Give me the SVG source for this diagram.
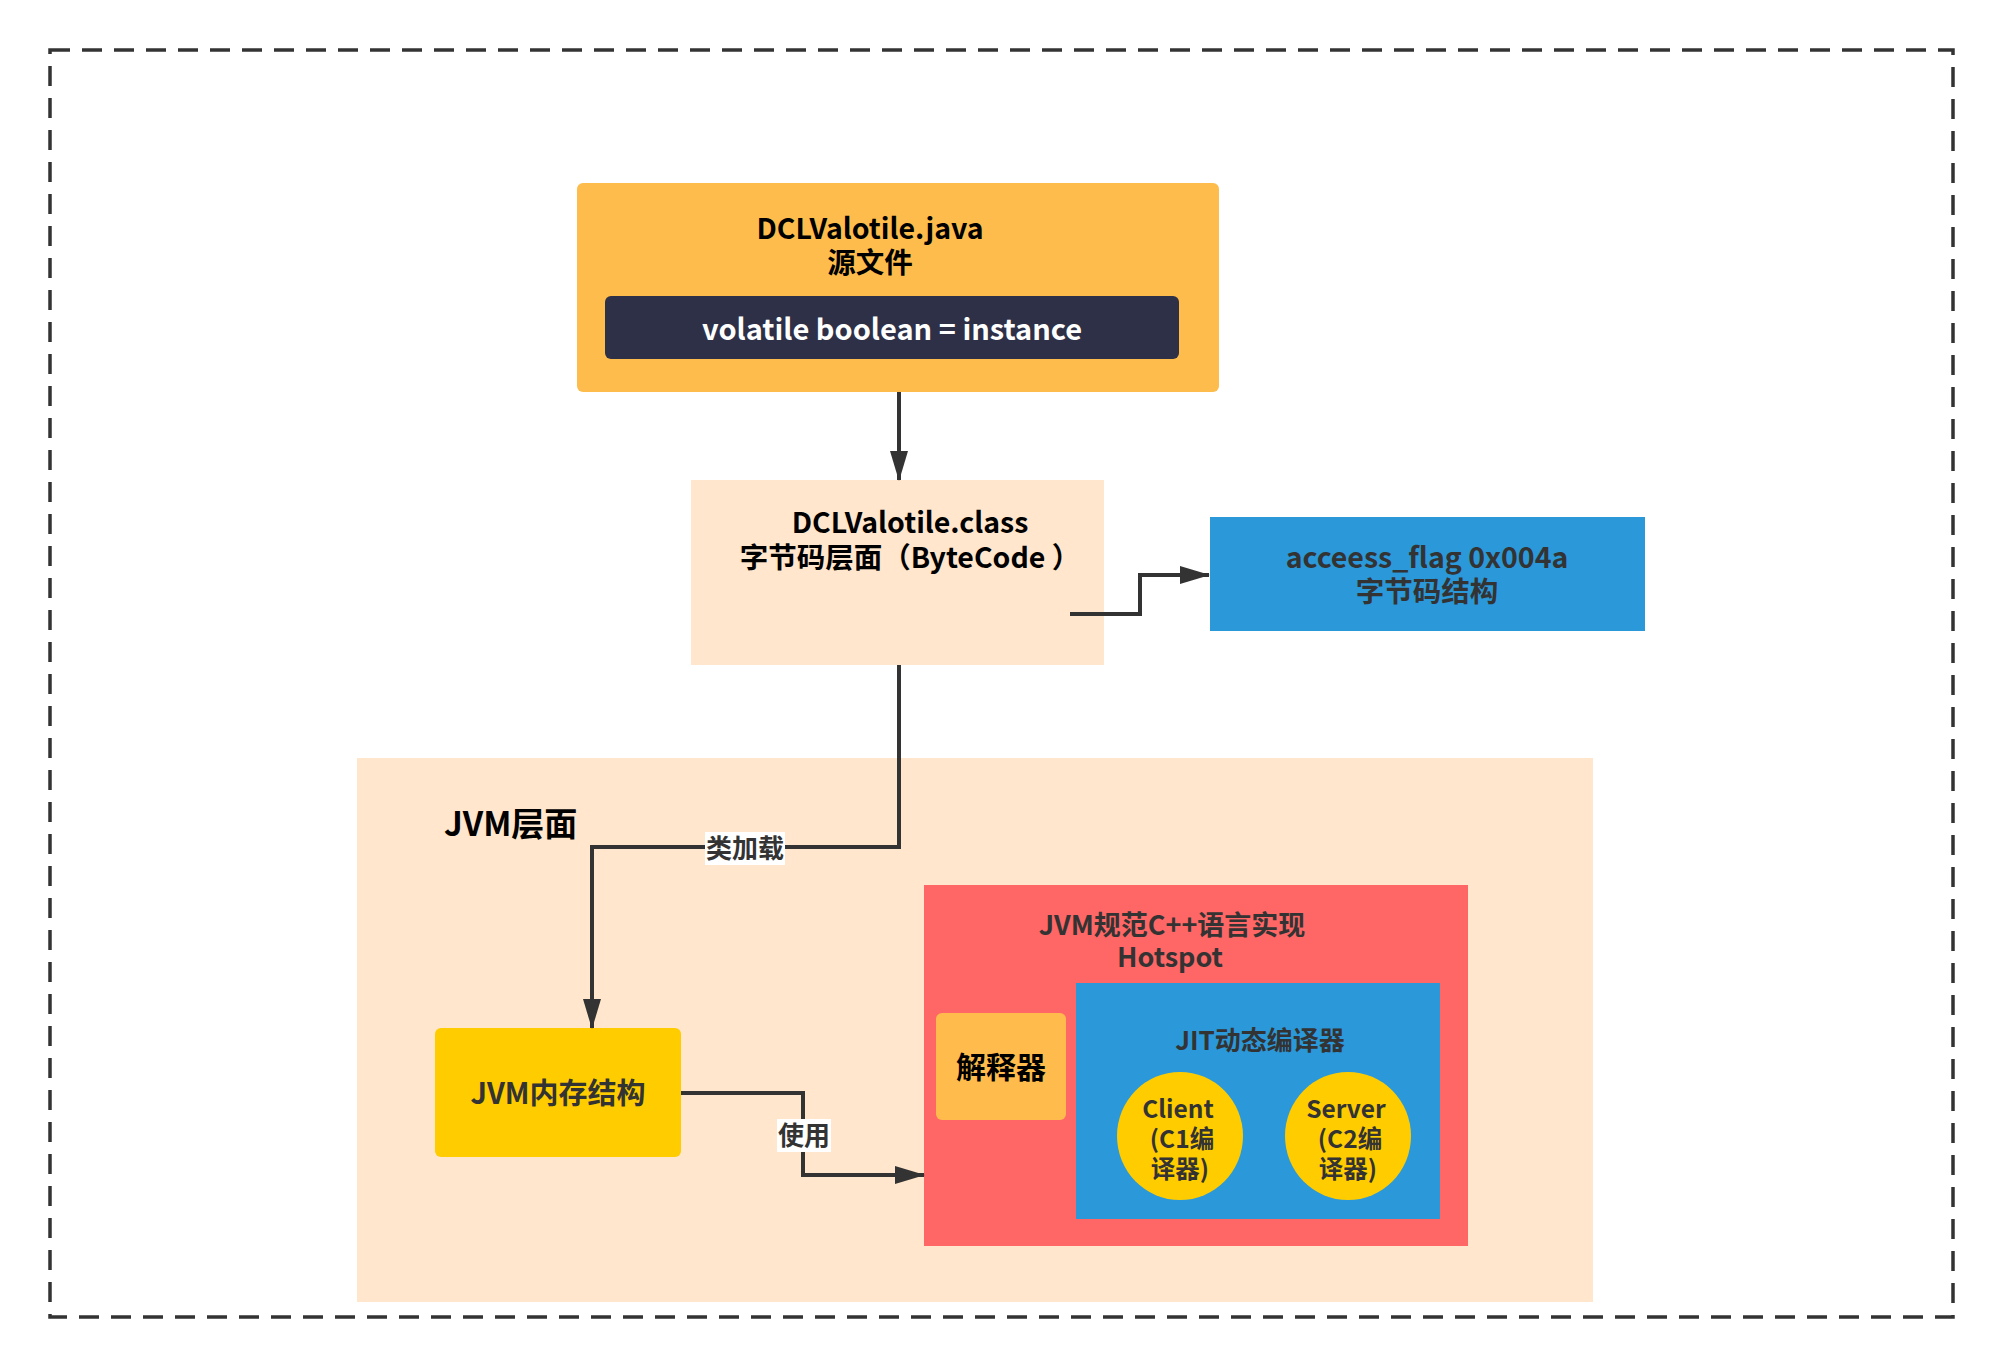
<svg xmlns="http://www.w3.org/2000/svg" width="2002" height="1368" viewBox="0 0 2002 1368">
<defs>
<marker id="arr" markerWidth="30" markerHeight="18" refX="29" refY="9" orient="auto" markerUnits="userSpaceOnUse">
<path d="M0,0 L30,9 L0,18 Z" fill="#333333"/>
</marker>
<style>
text{font-family:"Noto Sans CJK SC","Noto Sans",sans-serif;font-weight:bold;text-anchor:middle}
.t{font-size:28.5px;fill:#000000}
.d{font-size:28.5px;fill:#333333}
.s{font-size:27px;fill:#333333}
.c{font-size:24.5px;fill:#333333}
.conn{fill:none;stroke:#333333;stroke-width:4}
.lbl{font-size:26px;fill:#333333}
</style>
</defs>
<rect width="2002" height="1368" fill="#ffffff"/>
<rect x="50" y="50" width="1903" height="1267" fill="none" stroke="#333333" stroke-width="3.5" stroke-dasharray="20 12"/>

<g id="jvm-layer">
<rect x="357" y="758" width="1236" height="544" fill="#FFE6CC"/>
<text class="t" x="444" y="836" style="text-anchor:start;font-size:33px">JVM层面</text>
</g>

<g id="source">
<rect x="577" y="183" width="642" height="209" rx="6" fill="#FDBC4B"/>
<text class="t"><tspan x="870" y="239">DCLValotile.java</tspan><tspan x="870" y="273">源文件</tspan></text>
<rect x="605" y="296" width="574" height="63" rx="6" fill="#2E3047"/>
<text class="t" x="892" y="340" style="fill:#ffffff;font-size:29px">volatile boolean = instance</text>
</g>

<g id="classfile">
<rect x="691" y="480" width="413" height="185" fill="#FFE6CC"/>
<text class="t"><tspan x="910" y="533">DCLValotile.class</tspan><tspan x="910" y="568">字节码层面（ByteCode ）</tspan></text>
</g>

<g id="access-flag">
<rect x="1210" y="517" width="435" height="114" fill="#2B98DA"/>
<text class="d"><tspan x="1427" y="568">acceess_flag 0x004a</tspan><tspan x="1427" y="602">字节码结构</tspan></text>
</g>

<g id="jvm-memory">
<rect x="435" y="1028" width="246" height="129" rx="6" fill="#FFCC00"/>
<text class="d" x="558" y="1104" style="font-size:29px">JVM内存结构</text>
</g>

<g id="hotspot">
<rect x="924" y="885" width="544" height="361" fill="#FF6666"/>
<text class="s"><tspan x="1172" y="935">JVM规范C++语言实现</tspan><tspan x="1170" y="967">Hotspot</tspan></text>
</g>

<g id="interpreter">
<rect x="936" y="1013" width="130" height="107" rx="6" fill="#FFBB4B"/>
<text class="t" x="1001" y="1078" style="font-size:30px">解释器</text>
</g>

<g id="jit">
<rect x="1076" y="983" width="364" height="236" fill="#2B98DA"/>
<text class="s" x="1260" y="1050" style="font-size:26px">JIT动态编译器</text>
</g>

<g id="client">
<ellipse cx="1180" cy="1136" rx="63" ry="64" fill="#FFCC00"/>
<text class="c"><tspan x="1178" y="1118">Client</tspan><tspan x="1182" y="1148">(C1编</tspan><tspan x="1180" y="1178">译器)</tspan></text>
</g>

<g id="server">
<ellipse cx="1348" cy="1136" rx="63" ry="64" fill="#FFCC00"/>
<text class="c"><tspan x="1346" y="1118">Server</tspan><tspan x="1350" y="1148">(C2编</tspan><tspan x="1348" y="1178">译器)</tspan></text>
</g>

<g id="connectors">
<path class="conn" d="M899,392 L899,480" marker-end="url(#arr)"/>
<path class="conn" d="M1070,614 L1140,614 L1140,575 L1209,575" marker-end="url(#arr)"/>
<path class="conn" d="M899,665 L899,847 L592,847 L592,1028" marker-end="url(#arr)"/>
<path class="conn" d="M681,1093 L803,1093 L803,1175 L924,1175" marker-end="url(#arr)"/>
<rect x="705" y="832" width="80" height="33" fill="#ffffff"/>
<text class="lbl" x="745" y="858">类加载</text>
<rect x="777" y="1119" width="54" height="33" fill="#ffffff"/>
<text class="lbl" x="804" y="1145">使用</text>
</g>
</svg>
